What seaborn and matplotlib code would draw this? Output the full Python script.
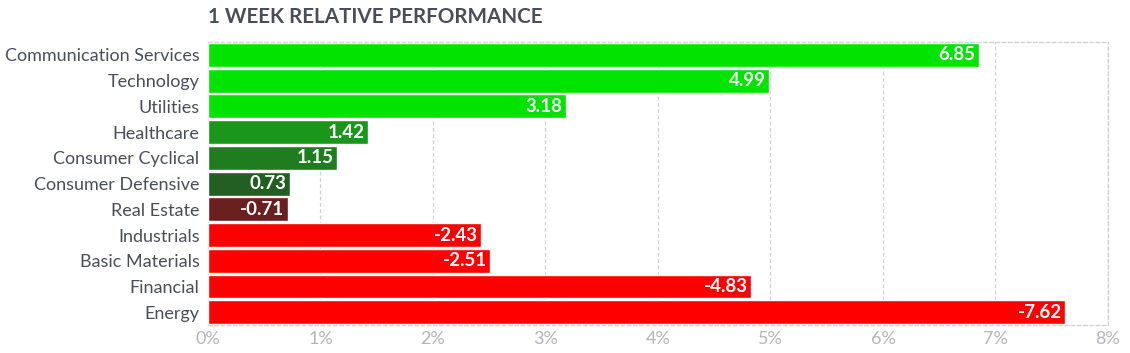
import numpy as np
import pandas as pd
import matplotlib.pyplot as plt
import seaborn as sns

sectors = ['Communication Services', 'Technology', 'Utilities', 'Healthcare',
           'Consumer Cyclical', 'Consumer Defensive', 'Real Estate', 'Industrials',
           'Basic Materials', 'Financial', 'Energy']
perf = [6.85, 4.99, 3.18, 1.42, 1.15, 0.73, -0.71, -2.43, -2.51, -4.83, -7.62]
bar_colors = ['#00e400', '#00e400', '#00e400', '#1a961a', '#1f7c1f', '#235f23',
              '#6b2020', '#ff0000', '#ff0000', '#ff0000', '#ff0000']
xticks = [0, 1, 2, 3, 4, 5, 6, 7, 8]

df = pd.DataFrame({'sector': sectors, 'perf': perf})
df['size'] = df['perf'].abs()

sns.set_style('white')
plt.rcParams['font.family'] = ['Lato', 'DejaVu Sans']

fig = plt.figure(figsize=(11.3, 3.53), dpi=100)
ax = fig.add_axes([0.184, 0.079, 0.7965, 0.802])

sns.barplot(data=df, x='size', y='sector', hue='sector', order=sectors,
            palette=dict(zip(sectors, bar_colors)), width=0.93, legend=False,
            saturation=1, ax=ax, zorder=2)

# value labels inside the bar end
for i, (v, s) in enumerate(zip(perf, df['size'])):
    ax.text(s - 0.03, i, f'{v:.2f}', ha='right', va='center', color='white',
            fontsize=13.5, fontweight='bold', zorder=3)

ax.set_xlim(0, 8)
ax.set_ylim(len(sectors) - 0.5, -0.5)
ax.set_xticks(xticks)
ax.set_xticklabels([f'{t}%' for t in xticks], color='#b4b4bc', fontsize=13)
ax.tick_params(axis='y', labelsize=13, labelcolor='#4a4e5a', length=0, pad=6)
ax.tick_params(axis='x', length=0, pad=4)
ax.set_xlabel('')
ax.set_ylabel('')

ax.grid(axis='x', ls=(0, (3, 2)), color='#cfcfd4', lw=0.9, zorder=0)
for side in ['top', 'right', 'bottom']:
    ax.spines[side].set_visible(True)
    ax.spines[side].set_linestyle((0, (3, 2)))
    ax.spines[side].set_color('#cfcfd4')
    ax.spines[side].set_linewidth(0.9)
ax.spines['left'].set_visible(False)

fig.text(0.184, 0.952, '1 WEEK RELATIVE PERFORMANCE', fontsize=14.9, fontweight='bold',
         color='#4a4e5a', ha='left', va='center')

fig.savefig('out.png', dpi=100)
